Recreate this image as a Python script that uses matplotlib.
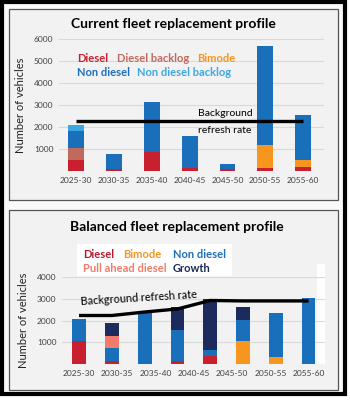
import numpy as np
import matplotlib
matplotlib.use("Agg")
import matplotlib.pyplot as plt
from matplotlib.patches import Rectangle

plt.rcParams["font.family"] = ["Lato", "DejaVu Sans"]

# ---- 数据：当前车队更新 ----
periods_cur = ["2025-30", "2030-35", "2035-40", "2040-45", "2045-50", "2050-55", "2055-60"]
diesel_cur = [500, 100, 850, 140, 90, 140, 180]
diesel_backlog_cur = [550, 0, 0, 0, 0, 0, 0]
bimode_cur = [0, 0, 0, 0, 0, 1060, 340]
nondiesel_cur = [780, 660, 2270, 1430, 230, 4465, 2025]
nondiesel_backlog_cur = [250, 0, 0, 0, 0, 0, 0]
refresh_cur = [2250, 2250, 2250, 2250, 2250, 2250, 2250]
yticks_cur = [0, 1000, 2000, 3000, 4000, 5000, 6000]
ytick_labels_cur = ["", "1000", "2000", "3000", "4000", "5000", "6000"]

# ---- 数据：平衡车队更新（8 根柱子，7 个标签） ----
periods_bal = ["2025-30", "2030-35", "2035-40", "2040-45", "2045-50", "2050-55", "2055-60"]
diesel_bal = [1040, 120, 0, 130, 380, 0, 0, 0]
bimode_bal = [0, 0, 0, 0, 0, 1040, 330, 0]
nondiesel_bal = [1010, 610, 2350, 1430, 280, 990, 2010, 3050]
pullahead_bal = [0, 540, 0, 0, 0, 0, 0, 0]
growth_bal = [0, 600, 0, 1040, 2320, 570, 0, 0]
refresh_bal = [2230, 2230, 2390, 2530, 2920, 2900, 2900, 2900]
yticks_bal = [0, 1000, 2000, 3000, 4000]
ytick_labels_bal = ["", "1000", "2000", "3000", "4000"]

C_DIESEL = "#c8202f"
C_BACKLOG = "#c0695c"
C_BIMODE = "#f7961e"
C_NONDIESEL = "#1a6fba"
C_ND_BACKLOG = "#3ba7df"
C_PULL = "#f27b6b"
C_GROWTH = "#1d2b5c"

W, H = 350, 400
fig = plt.figure(figsize=(3.5, 4), dpi=100, facecolor="white")


def px(x, y):
    """像素坐标 → figure 坐标"""
    return x / W, 1 - y / H


# 外框和两个面板（放在坐标轴下面）
fig.patches.append(Rectangle((2 / W, 1 - 394 / H), 343 / W, 392 / H, transform=fig.transFigure,
                             facecolor="#fafafa", edgecolor="black", lw=3, zorder=-3))
for y0, y1 in [(9, 200), (210, 390)]:
    fig.patches.append(Rectangle((9 / W, 1 - y1 / H), 329 / W, (y1 - y0) / H, transform=fig.transFigure,
                                 facecolor="#f2f2f2", edgecolor="#555555", lw=0.9, zorder=-2))


def stack(ax, x, series, width):
    bottom = np.zeros(len(x))
    for vals, col in series:
        vals = np.array(vals, dtype=float)
        ax.bar(x, vals, width, bottom=bottom, color=col, zorder=2)
        bottom += vals


def style(ax, yticks, ylabels):
    ax.set_facecolor("none")
    ax.set_yticks(yticks)
    ax.set_yticklabels(ylabels)
    ax.grid(axis="y", color="#d9d9d9", lw=0.8, zorder=0)
    for s in ax.spines.values():
        s.set_visible(False)
    ax.tick_params(length=0, labelsize=6, colors="#404040", pad=4)
    ax.set_ylabel("Number of vehicles", fontsize=8, color="#222222", labelpad=6)


# ---- 上图 ----
ax1 = fig.add_axes([59 / W, 1 - 171 / H, 265 / W, 132 / H])
x1 = np.arange(len(periods_cur))
stack(ax1, x1, [(diesel_cur, C_DIESEL), (diesel_backlog_cur, C_BACKLOG), (bimode_cur, C_BIMODE),
                (nondiesel_cur, C_NONDIESEL), (nondiesel_backlog_cur, C_ND_BACKLOG)], 0.42)
ax1.plot(x1, refresh_cur, color="black", lw=2.4, zorder=3, solid_capstyle="butt")
ax1.set_xlim(-0.45, 6.55)
ax1.set_ylim(0, 6000)
ax1.set_xticks(x1)
ax1.set_xticklabels(periods_cur)
style(ax1, yticks_cur, ytick_labels_cur)
ax1.text(3.22, 2600, "Background", fontsize=7.5, va="center", zorder=4)
ax1.text(3.22, 1820, "refresh rate", fontsize=7.5, va="center", zorder=4)
fig.text(*px(173, 24), "Current fleet replacement profile", fontsize=10, fontweight="bold",
         ha="center", va="center")

leg1 = [(77, 59, "Diesel", C_DIESEL), (117, 59, "Diesel backlog", C_BACKLOG),
        (197, 59, "Bimode", C_BIMODE), (77, 72, "Non diesel", C_NONDIESEL),
        (137, 72, "Non diesel backlog", C_ND_BACKLOG)]
for x, y, t, c in leg1:
    fig.text(*px(x, y), t, color=c, fontsize=8, fontweight="bold", va="center")

# ---- 下图 ----
ax2 = fig.add_axes([62 / W, 1 - 364 / H, 263 / W, 87 / H])
x2 = np.arange(len(diesel_bal))
ax2.add_patch(Rectangle((1 - 8 / 263, 0), 8 / 263, 1.15, transform=ax2.transAxes,
                        facecolor="white", edgecolor="none", zorder=0, clip_on=False))
stack(ax2, x2, [(diesel_bal, C_DIESEL), (bimode_bal, C_BIMODE), (nondiesel_bal, C_NONDIESEL),
                (pullahead_bal, C_PULL), (growth_bal, C_GROWTH)], 0.42)
ax2.plot(x2, refresh_bal, color="black", lw=2.4, zorder=3, solid_capstyle="butt")
ax2.set_xlim(-0.52, 7.5)
ax2.set_ylim(0, 4000)
ax2.set_xticks(np.arange(len(periods_bal)) * 7 / 6)
ax2.set_xticklabels(periods_bal)
style(ax2, yticks_bal, ytick_labels_bal)
ax2.text(0.05, 2880, "Background refresh rate", fontsize=7.8, rotation=3.5, va="center",
         rotation_mode="anchor", zorder=4)
fig.text(*px(177, 227), "Balanced fleet replacement profile", fontsize=10, fontweight="bold",
         ha="center", va="center")

fig.patches.append(Rectangle(px(77, 276), 155 / W, 32 / H, transform=fig.transFigure,
                             facecolor="white", edgecolor="none", zorder=1))
leg2 = [(83, 255, "Diesel", "#b8182c"), (123, 255, "Bimode", C_BIMODE),
        (173, 255, "Non diesel", C_NONDIESEL), (83, 268, "Pull ahead diesel", C_PULL),
        (173, 268, "Growth", C_GROWTH)]
for x, y, t, c in leg2:
    fig.text(*px(x, y), t, color=c, fontsize=8, fontweight="bold", va="center", zorder=2)

fig.savefig("out.png", dpi=100, facecolor="white")
